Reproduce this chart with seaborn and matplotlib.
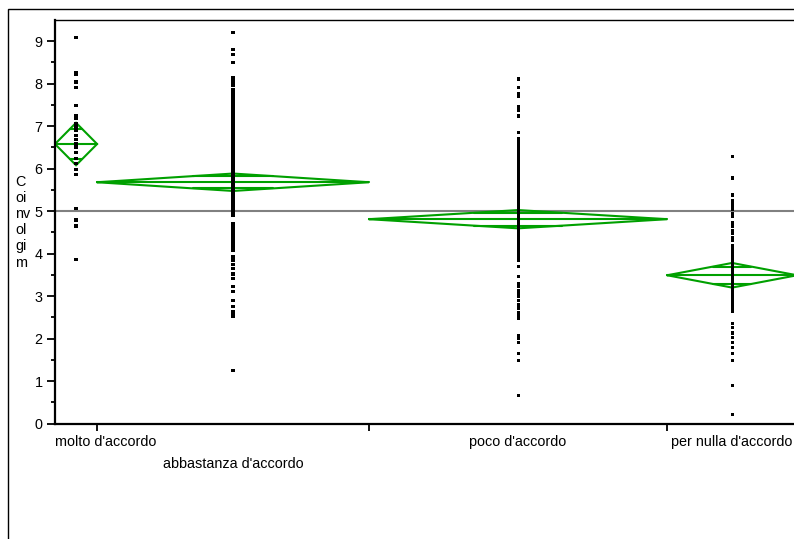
"""
Oneway plot of Coinvolgimento by agreement level, JMP-style means diamonds.
"""

import numpy as np
import pandas as pd
import matplotlib
matplotlib.use("Agg")
import matplotlib.pyplot as plt
from matplotlib.patches import Rectangle
import seaborn as sns

# ---- data ----
groups = ["molto d'accordo", "abbastanza d'accordo", "poco d'accordo", "per nulla d'accordo"]
group_n = [24, 155, 170, 74]            # column widths are proportional to n
group_mean = [6.58, 5.68, 4.81, 3.49]
group_ci = [0.50, 0.205, 0.215, 0.29]   # half height of each diamond
grand_mean = 5.0

vals_molto = [9.08, 8.26, 8.22, 8.04, 7.91, 7.49, 7.26, 7.18, 7.06, 7.0, 6.91,
              6.79, 6.69, 6.58, 6.51, 6.37, 6.24, 6.12, 5.98, 5.87, 5.06, 4.79,
              4.65, 3.87]
vals_abbastanza = [9.2, 8.81, 8.69, 8.49, 8.15, 8.07, 8.0, 7.95, 7.86, 7.8,
                   7.72, 7.66, 7.57, 7.5, 7.43, 7.38, 7.3, 7.24, 7.19, 7.13, 7.06,
                   7.0, 6.93, 6.86, 6.8, 6.73, 6.66, 6.6, 6.55, 6.5, 6.44, 6.36,
                   6.3, 6.24, 6.17, 6.1, 6.04, 5.97, 5.9, 5.84, 5.77, 5.7,
                   5.63, 5.57, 5.5, 5.43, 5.37, 5.3, 5.23, 5.17, 5.1, 5.03,
                   4.97, 4.91, 4.7, 4.64, 4.58, 4.51, 4.45, 4.38, 4.32, 4.26,
                   4.19, 4.13, 4.08, 3.92, 3.83, 3.75, 3.65, 3.52, 3.42, 3.22,
                   3.1, 2.89, 2.75, 2.63, 2.57, 2.51, 1.24]
vals_poco = [8.11, 7.91, 7.77, 7.71, 7.47, 7.42, 7.38, 7.24, 6.85, 6.71, 6.65,
             6.58, 6.5, 6.44, 6.37, 6.31, 6.24, 6.17, 6.1, 6.04, 5.97, 5.91,
             5.84, 5.77, 5.7, 5.64, 5.57, 5.5, 5.44, 5.38, 5.3, 5.24, 5.17,
             5.1, 5.04, 4.97, 4.9, 4.84, 4.77, 4.7, 4.64, 4.57, 4.5, 4.44,
             4.37, 4.3, 4.24, 4.17, 4.1, 4.04, 3.97, 3.91, 3.85, 3.69, 3.47,
             3.3, 3.22, 3.14, 3.06, 2.98, 2.9, 2.79, 2.7, 2.62, 2.55, 2.48,
             2.08, 2.0, 1.9, 1.64, 1.49, 0.65]
vals_per_nulla = [6.28, 5.78, 5.38, 5.26, 5.2, 5.12, 5.05, 4.95, 4.87, 4.72,
                  4.65, 4.55, 4.47, 4.38, 4.3, 4.2, 4.13, 4.06, 4.0, 3.93,
                  3.86, 3.8, 3.73, 3.66, 3.6, 3.53, 3.46, 3.4, 3.33, 3.26,
                  3.2, 3.13, 3.06, 3.0, 2.93, 2.86, 2.8, 2.73, 2.66, 2.63,
                  2.36, 2.25, 2.13, 2.02, 1.9, 1.78, 1.65, 1.49, 0.9, 0.22]
group_vals = [vals_molto, vals_abbastanza, vals_poco, vals_per_nulla]

GREEN = "#00a000"

# column edges and centres along a count axis
edges = np.concatenate([[0], np.cumsum(group_n)])
centres = (edges[:-1] + edges[1:]) / 2

df = pd.DataFrame({
    "x": np.concatenate([[c] * len(v) for c, v in zip(centres, group_vals)]),
    "y": np.concatenate(group_vals),
})

sns.set_style("white")
plt.rcParams["font.family"] = ["Liberation Sans", "DejaVu Sans"]
plt.rcParams["font.size"] = 10.4
for key in ("text.color", "xtick.color", "ytick.color", "axes.labelcolor"):
    plt.rcParams[key] = "black"

W, H = 794, 539
fig = plt.figure(figsize=(W / 100, H / 100), dpi=100)
ax = fig.add_axes([55 / W, 1 - 423.5 / H, 742 / W, 403.5 / H])

# outer frame
fig.add_artist(Rectangle((8 / W, -0.1), 1.2, 1 - 9 / H + 0.1,
                         transform=fig.transFigure, fill=False,
                         edgecolor="black", linewidth=1.0))

# grand mean
ax.axhline(grand_mean, color="#808080", linewidth=1.5, zorder=1)

# means diamonds with overlap marks
for left, right, c, m, h in zip(edges[:-1], edges[1:], centres, group_mean, group_ci):
    ax.plot([left, c, right, c, left], [m, m + h, m, m - h, m],
            color=GREEN, linewidth=1.5, zorder=2, solid_joinstyle="miter")
    ax.plot([left, right], [m, m], color=GREEN, linewidth=1.5, zorder=2)
    half = (1 - 1 / np.sqrt(2)) * (right - left) / 2
    for sgn in (1, -1):
        ax.plot([c - half, c + half], [m + sgn * h / np.sqrt(2)] * 2,
                color=GREEN, linewidth=1.5, zorder=2)

sns.scatterplot(data=df, x="x", y="y", marker="s", s=5, color="black",
                edgecolor="none", linewidth=0, ax=ax, zorder=3, legend=False)

ax.set_xlim(edges[0], edges[-1])
ax.set_ylim(0, 9.5)
ax.set_xlabel("")
ax.set_ylabel("")

ax.set_yticks(np.arange(0, 10, 1))
ax.set_yticks(np.arange(0.5, 9.5, 1), minor=True)
ax.tick_params(axis="y", which="major", direction="out", length=6, width=1.3,
               pad=3, left=True, labelsize=10.4, colors="black")
ax.tick_params(axis="y", which="minor", direction="out", length=3, width=1.3,
               left=True, colors="black")

ax.set_xticks(edges[1:-1])
ax.set_xticklabels([])
ax.tick_params(axis="x", which="major", direction="out", length=5, width=1.3,
               bottom=True, colors="black")

for side in ("left", "bottom"):
    ax.spines[side].set_linewidth(1.6)
    ax.spines[side].set_color("black")
ax.spines["top"].set_linewidth(1.0)
ax.spines["top"].set_color("black")
ax.spines["right"].set_visible(False)

# staggered group labels
for i, (name, c) in enumerate(zip(groups, centres)):
    row_y = -0.953 if i == 1 else -0.435
    if i == 0:
        ax.text(edges[0], row_y, name, ha="left", va="center", clip_on=False)
    else:
        ax.text(c, row_y, name, ha="center", va="center", clip_on=False)

# stacked axis title as in the original report
fig.text(15 / W, 1 - 222 / H, "C\noi\nnv\nol\ngi\nm", ha="left", va="center",
         linespacing=1.2, fontsize=10.4)

fig.savefig("out.png", dpi=100)
